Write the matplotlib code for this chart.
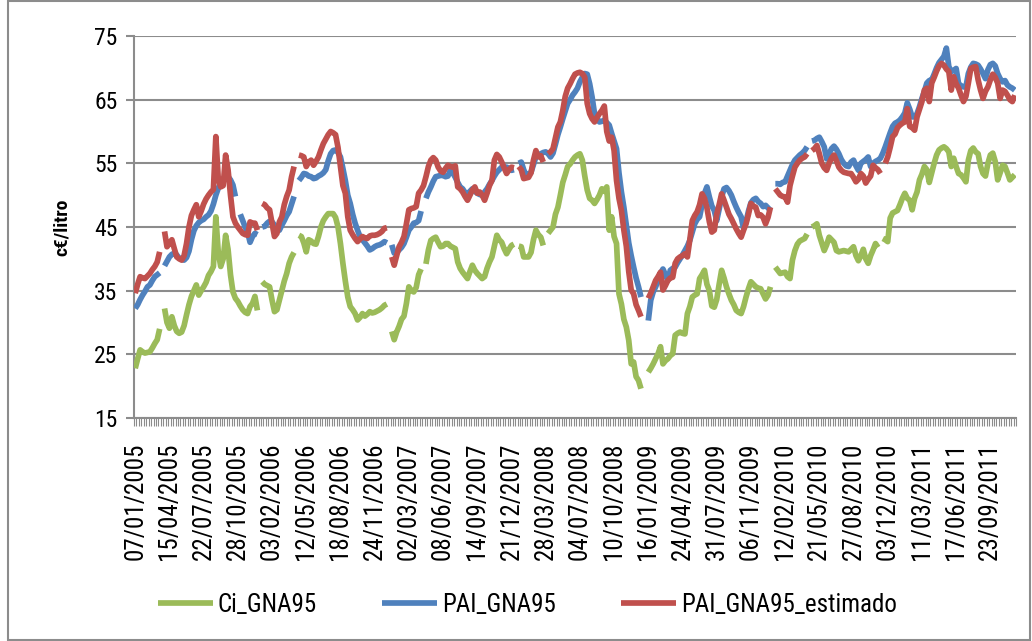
import numpy as np
import pandas as pd
import matplotlib
matplotlib.use('Agg')
import matplotlib.pyplot as plt
from matplotlib import font_manager
from matplotlib.patches import Rectangle

# Excel chart used Arial Narrow; take a narrow face if one is installed
instaladas = {f.name for f in font_manager.fontManager.ttflist}
estrecha = [n for n in ('Liberation Sans Narrow', 'DejaVu Sans Condensed',
                        'Roboto Condensed') if n in instaladas]
if estrecha:
    plt.rcParams['font.family'] = [estrecha[0], 'Liberation Sans', 'DejaVu Sans']
    fs_fecha, fs_ley, fs_y = 18, 18, 17
else:
    plt.rcParams['font.family'] = ['Liberation Sans', 'DejaVu Sans']
    fs_fecha, fs_ley, fs_y = 17, 17, 16

nan = np.nan

# weekly categories (Fridays) 07/01/2005 .. 23/12/2011
fechas = pd.date_range('2005-01-07', periods=361, freq='7D')
etiquetas = fechas[::14].strftime('%d/%m/%Y')

# weekly values, nan = missing week
ci_gna95 = [
    22.8, 24.3, 25.7, 25.4, 25.2, 25.3, 25.4, 26.0, 26.7, 27.3,
    29.0, nan, 32.2, 30.0, 29.1, 30.9, 29.5, 28.6, 28.3, 28.5,
    29.5, 31.2, 32.8, 34.1, 35.0, 35.9, 34.3, 35.0, 35.6, 36.3,
    37.4, 38.0, 38.8, 46.6, 41.0, 38.8, 40.0, 43.7, 41.5, 37.5,
    34.8, 33.8, 33.3, 32.6, 32.0, 31.6, 31.4, 32.5, 33.0, 34.1,
    31.9, nan, 36.4, 36.0, 35.8, 35.6, 33.5, 31.7, 32.0, 33.5,
    35.0, 36.5, 37.7, 39.3, 40.3, 41.0, nan, 43.7, 43.5, 42.5,
    41.1, 43.0, 42.8, 42.4, 42.3, 43.5, 45.0, 46.0, 46.6, 47.1,
    47.1, 47.1, 46.5, 45.0, 42.4, 39.3, 36.5, 34.0, 32.5, 32.0,
    31.4, 30.4, 30.8, 31.4, 31.0, 31.3, 31.7, 31.5, 31.6, 31.8,
    32.0, 32.3, 32.7, 32.9, nan, 28.6, 27.3, 28.5, 29.4, 30.5,
    31.0, 33.0, 35.6, 35.0, 34.8, 35.5, 37.5, 38.4, nan, 39.2,
    41.4, 42.9, 43.2, 43.4, 42.6, 41.9, 42.0, 42.4, 42.4, 42.0,
    41.8, 41.6, 39.5, 38.5, 37.9, 37.4, 36.9, 38.0, 39.0, 38.2,
    37.7, 37.3, 36.9, 37.2, 38.5, 39.5, 40.3, 42.0, 43.7, 43.0,
    42.6, 41.6, 40.8, 41.5, 42.1, 42.3, nan, 42.0, 41.9, 40.3,
    40.3, 40.3, 41.0, 43.0, 44.5, 43.8, 43.4, 42.1, nan, 44.0,
    44.5, 45.0, 47.0, 48.1, 50.0, 52.0, 53.2, 54.5, 54.9, 55.5,
    56.0, 56.3, 56.5, 55.5, 53.0, 50.8, 49.5, 49.2, 48.7, 49.3,
    50.0, 51.0, 50.6, 51.3, 44.5, 46.6, 43.5, 42.4, 34.5, 32.9,
    30.5, 29.3, 27.2, 23.5, 23.8, 21.5, 20.9, 19.6, nan, nan,
    22.2, 22.8, 23.5, 24.3, 25.1, 26.2, 23.5, 24.0, 24.3, 24.8,
    25.1, 28.0, 28.3, 28.5, 28.3, 28.2, 31.4, 32.5, 34.0, 34.3,
    34.5, 36.9, 37.5, 38.2, 36.0, 35.0, 32.6, 32.4, 33.6, 36.0,
    38.2, 37.0, 35.6, 34.5, 33.5, 32.8, 31.9, 31.6, 31.4, 32.5,
    34.0, 35.3, 36.4, 36.0, 35.6, 35.4, 35.3, 34.5, 33.7, 34.3,
    35.6, nan, 38.7, 38.2, 37.7, 37.8, 37.9, 37.2, 36.9, 39.8,
    41.3, 42.3, 42.8, 43.0, 43.2, 43.9, nan, 45.0, 45.2, 45.5,
    43.7, 42.5, 41.3, 42.2, 43.4, 43.0, 42.6, 41.3, 41.1, 41.2,
    41.3, 41.2, 41.1, 41.5, 41.9, 40.5, 39.7, 40.5, 41.5, 40.0,
    39.3, 40.5, 41.4, 42.4, 41.8, nan, 43.2, 43.0, 42.7, 46.4,
    47.2, 47.4, 47.6, 48.5, 49.5, 50.3, 49.5, 49.2, 47.7, 49.5,
    50.5, 52.4, 53.3, 54.5, 54.0, 52.0, 53.5, 55.0, 56.3, 57.1,
    57.4, 57.6, 57.3, 56.8, 54.5, 55.8, 54.5, 53.4, 53.2, 52.7,
    52.1, 55.5, 57.0, 57.4, 56.8, 56.5, 54.5, 53.4, 53.0, 55.0,
    56.3, 56.6, 55.3, 52.4, 53.5, 54.7, 54.5, 53.5, 52.4, 52.8,
    53.2,
]

pai_gna95 = [
    32.2, 32.8, 33.6, 34.3, 34.9, 35.6, 35.9, 36.6, 37.2, 37.5,
    37.8, nan, 38.9, 39.6, 40.3, 40.7, 40.9, 40.6, 40.1, 39.9,
    39.8, 40.2, 41.2, 43.0, 44.4, 45.2, 45.7, 46.0, 46.2, 46.6,
    46.9, 47.5, 48.6, 50.0, 51.1, 52.0, 52.6, 52.9, 52.9, 52.4,
    51.6, 49.8, nan, 47.0, 46.0, 45.0, 44.2, 42.6, 43.5, 44.0,
    43.8, nan, 45.0, 45.1, 45.6, 45.9, 45.8, 45.3, 44.6, 44.5,
    45.3, 46.0, 46.8, 47.4, 48.6, 49.8, nan, 52.3, 52.8, 53.4,
    53.3, 53.0, 52.9, 52.6, 52.7, 53.0, 53.2, 53.5, 54.0, 55.4,
    56.5, 57.0, 57.1, 56.7, 56.0, 54.2, 52.3, 50.0, 48.7, 47.0,
    45.6, 44.5, 43.5, 43.0, 42.5, 42.0, 41.4, 41.6, 41.9, 42.1,
    42.2, 42.4, 42.7, 42.5, nan, 42.2, 40.9, 41.0, 41.4, 41.8,
    42.4, 43.4, 44.5, 45.0, 45.6, 45.7, 46.0, 47.5, nan, 49.5,
    50.5, 51.3, 52.2, 52.9, 53.0, 53.1, 53.1, 52.9, 53.0, 53.9,
    53.5, 52.8, 52.0, 51.3, 51.0, 50.4, 50.2, 50.6, 51.0, 50.6,
    50.3, 50.1, 50.0, 50.5, 51.0, 51.7, 52.3, 53.0, 53.6, 54.0,
    54.4, 54.4, 54.4, 54.2, 53.9, 54.0, nan, 55.0, 55.2, 54.0,
    53.1, 53.3, 53.6, 54.8, 56.0, 56.3, 56.5, 56.7, 56.8, 56.5,
    56.0, 56.6, 58.0, 59.5, 60.7, 62.0, 63.2, 64.4, 65.0, 65.7,
    66.2, 66.8, 67.8, 68.5, 69.1, 69.0, 67.5, 65.4, 62.8, 62.0,
    61.5, 61.6, 61.8, 61.4, 61.0, 59.7, 58.5, 57.3, 53.5, 50.5,
    48.1, 45.3, 42.5, 40.5, 38.7, 37.0, 35.6, 34.0, nan, nan,
    30.3, 33.5, 34.8, 35.6, 36.6, 37.7, 38.4, 37.5, 36.6, 38.2,
    38.5, 38.7, 39.4, 40.0, 40.6, 41.3, 42.0, 42.9, 44.2, 45.5,
    46.2, 46.6, 48.5, 50.3, 51.3, 49.7, 48.3, 47.6, 46.0, 47.8,
    49.7, 51.0, 51.2, 50.7, 50.0, 49.0, 48.1, 47.3, 46.6, 44.8,
    45.8, 47.5, 48.8, 49.3, 49.5, 49.0, 48.7, 48.2, 48.4, 48.0,
    47.6, nan, 51.8, 51.8, 51.7, 52.0, 52.1, 53.0, 53.9, 54.8,
    55.5, 55.9, 56.3, 56.6, 57.0, 57.6, nan, 58.5, 58.6, 58.9,
    59.1, 58.4, 57.6, 55.7, 56.5, 57.3, 57.7, 57.2, 56.5, 55.6,
    55.0, 54.6, 54.5, 55.2, 55.5, 54.6, 53.9, 55.0, 55.3, 55.6,
    56.0, 54.5, 55.0, 55.3, 55.5, 55.8, 56.6, 57.6, 58.7, 59.8,
    60.8, 61.3, 61.5, 61.8, 62.3, 62.9, 64.5, 63.5, 62.3, 62.3,
    62.8, 63.9, 65.2, 66.3, 67.6, 68.0, 68.1, 69.0, 70.0, 70.8,
    71.3, 71.8, 73.1, 70.2, 69.4, 69.6, 69.9, 67.5, 67.2, 67.0,
    67.0, 69.1, 70.1, 70.7, 70.6, 70.4, 69.8, 69.1, 68.3, 69.7,
    70.5, 70.7, 70.3, 69.1, 68.3, 67.8, 68.0, 67.3, 67.0, 66.8,
    66.5,
]

pai_gna95_estimado = [
    34.6, 36.0, 37.2, 37.0, 36.9, 37.3, 37.7, 38.3, 38.8, 39.5,
    41.1, nan, 44.3, 41.9, 42.4, 43.0, 41.6, 40.3, 40.0, 39.8,
    40.5, 42.4, 45.0, 46.8, 47.7, 48.5, 46.6, 47.5, 48.6, 49.4,
    50.0, 50.5, 50.9, 59.2, 52.5, 51.3, 51.5, 56.3, 54.0, 50.0,
    46.6, 45.6, 45.0, 44.5, 44.0, 43.8, 43.7, 45.8, 45.6, 45.6,
    44.5, nan, 48.7, 48.5, 48.0, 47.7, 45.6, 43.5, 44.0, 45.8,
    46.6, 48.5, 49.8, 50.8, 52.9, 54.5, nan, 56.3, 56.2, 56.0,
    54.5, 55.2, 55.5, 54.7, 55.3, 56.0, 57.1, 58.1, 58.8, 59.5,
    60.0, 59.8, 59.5, 57.5, 54.5, 51.5, 50.3, 46.6, 44.5, 43.8,
    43.2, 42.7, 43.1, 43.5, 43.3, 43.2, 43.6, 43.7, 43.7, 43.8,
    44.0, 44.3, 44.8, 44.9, nan, 40.3, 39.0, 40.5, 41.9, 42.6,
    43.5, 45.5, 47.7, 47.9, 48.0, 48.2, 50.3, 50.8, 51.5, 52.9,
    54.5, 55.5, 55.9, 55.5, 54.4, 53.8, 53.6, 54.2, 54.7, 54.5,
    54.4, 54.6, 51.3, 51.0, 50.5, 49.8, 49.2, 50.0, 50.8, 51.3,
    50.3, 50.5, 50.0, 49.2, 50.3, 51.5, 52.3, 55.5, 56.4, 56.0,
    55.2, 54.3, 53.4, 54.0, 54.4, 54.3, nan, 54.5, 54.0, 52.6,
    52.7, 52.8, 53.5, 55.5, 57.0, 56.0, 56.2, 55.2, nan, 56.5,
    56.8, 57.3, 59.0, 60.7, 61.5, 63.3, 65.5, 66.8, 67.5, 68.3,
    69.0, 69.2, 69.3, 69.1, 68.5, 64.4, 62.8, 62.0, 61.5, 62.2,
    62.8, 63.3, 64.0, 60.0, 58.5, 59.1, 57.0, 52.3, 49.5, 47.6,
    44.5, 42.0, 38.0, 35.1, 34.5, 32.8, 31.9, 30.9, nan, nan,
    33.8, 34.6, 35.6, 36.6, 37.2, 37.9, 35.1, 35.8, 36.6, 37.0,
    37.1, 39.3, 40.0, 40.3, 40.5, 40.8, 40.3, 43.0, 46.0, 46.8,
    47.4, 48.5, 50.2, 49.5, 48.0, 45.8, 44.2, 44.5, 47.0, 48.5,
    50.2, 49.2, 48.1, 47.0, 46.3, 45.5, 44.7, 44.0, 43.4, 44.5,
    45.5, 47.0, 48.7, 48.3, 48.1, 46.8, 46.9, 46.5, 45.5, 46.5,
    48.1, nan, 51.0, 50.5, 50.0, 49.8, 49.7, 48.9, 51.5, 53.0,
    54.4, 55.0, 55.5, 55.8, 56.0, 56.5, nan, 57.0, 57.3, 57.8,
    56.5, 55.0, 54.3, 53.9, 55.0, 55.8, 56.3, 55.4, 54.4, 53.9,
    53.6, 53.5, 53.4, 53.4, 52.8, 52.1, 52.5, 53.4, 53.0, 51.9,
    52.5, 53.0, 54.7, 54.3, 54.0, 53.4, nan, 55.0, 56.0, 57.5,
    59.2, 59.6, 60.6, 61.0, 61.3, 61.5, 63.6, 60.8, 60.6, 60.2,
    62.3, 63.5, 64.7, 66.5, 66.8, 64.7, 67.6, 68.5, 69.5, 70.3,
    70.7, 70.4, 69.8, 69.4, 66.5, 68.6, 67.5, 66.8, 65.7, 64.7,
    65.5, 67.6, 69.9, 70.1, 70.2, 68.1, 66.5, 65.2, 66.3, 67.0,
    68.1, 69.0, 68.5, 67.6, 65.2, 66.5, 66.3, 65.7, 65.0, 64.7,
    65.7,
]

semanas = np.arange(len(fechas))

fig = plt.figure(figsize=(10.32, 6.41), dpi=100)
ax = fig.add_axes([134 / 1032, 1 - 418 / 641, 882 / 1032, 382 / 641])

gris = '#8c8c8c'
estilo = dict(lw=4.1, solid_capstyle='butt', solid_joinstyle='round')
ax.plot(semanas, ci_gna95, color='#9bbb59', label='Ci_GNA95', zorder=3, **estilo)
ax.plot(semanas, pai_gna95, color='#4f81bd', label='PAI_GNA95', zorder=4, **estilo)
ax.plot(semanas, pai_gna95_estimado, color='#c0504d', label='PAI_GNA95_estimado',
        zorder=5, **estilo)

ax.set_xlim(-0.5, len(fechas) - 0.5)
ax.set_ylim(15, 75)
ax.set_yticks(np.arange(15, 76, 10))
ax.yaxis.grid(True, color=gris, lw=1.5)
ax.set_axisbelow(True)

ax.set_xticks(np.arange(0, len(fechas), 14))
ax.set_xticklabels(etiquetas, rotation=90, fontsize=fs_fecha)
ax.set_xticks(np.arange(-0.5, len(fechas), 1), minor=True)
ax.tick_params(axis='x', which='major', length=0, pad=18)
ax.tick_params(axis='x', which='minor', length=6, width=0.8, color=gris)
ax.tick_params(axis='y', length=6, width=1.5, color=gris, labelsize=fs_y, pad=6)

for lado in ['top', 'right']:
    ax.spines[lado].set_visible(False)
for lado in ['left', 'bottom']:
    ax.spines[lado].set_color(gris)
    ax.spines[lado].set_linewidth(1.5)

fig.text(62 / 1032, 1 - 227 / 641, 'c€/litro', rotation=90, fontsize=14,
         fontweight='bold', ha='center', va='center')

fig.legend(loc='center', bbox_to_anchor=(0.511, 1 - 605 / 641), ncol=3,
           frameon=False, fontsize=fs_ley, handlelength=2.2, handletextpad=0.2,
           columnspacing=2.6)

fig.patches.append(Rectangle((8 / 1032, 1 / 641), 1022 / 1032, 639 / 641,
                             transform=fig.transFigure, fill=False,
                             edgecolor=gris, lw=1.5))

fig.savefig('out.png', dpi=100)
